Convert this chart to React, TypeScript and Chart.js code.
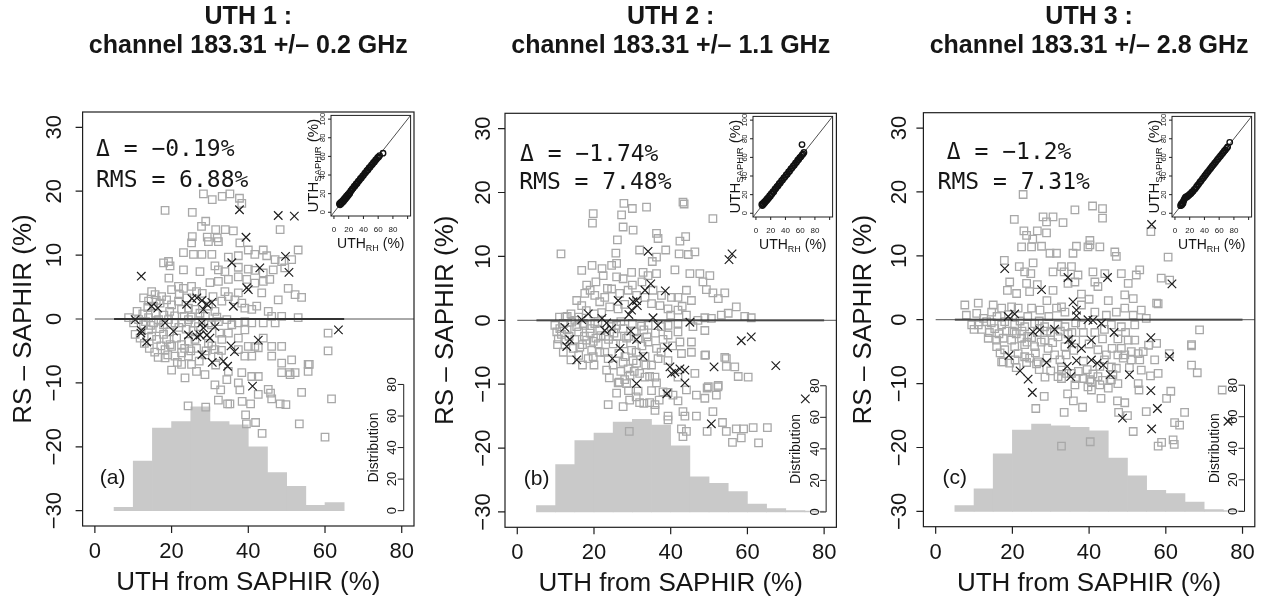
import React, { useEffect, useRef } from 'react';
import Chart from 'chart.js/auto';

type Pt = [number, number];

// ---------------- text ----------------
const TITLES = ['UTH 1 :', 'UTH 2 :', 'UTH 3 :'];
const CHANNELS = ['channel 183.31 +/– 0.2 GHz', 'channel 183.31 +/– 1.1 GHz', 'channel 183.31 +/– 2.8 GHz'];
const LETTERS = ['(a)', '(b)', '(c)'];
const DELTA_TEXT = ['Δ = −0.19%', 'Δ = −1.74%', 'Δ = −1.2%'];
const RMS_TEXT = ['RMS = 6.88%', 'RMS = 7.48%', 'RMS = 7.31%'];
const X_TITLE = 'UTH from SAPHIR (%)';
const Y_TITLE = 'RS – SAPHIR (%)';
const DIST_TITLE = 'Distribution';

// ---------------- ticks ----------------
const X_TICKS = [0, 20, 40, 60, 80];
const Y_TICKS = [-30, -20, -10, 0, 10, 20, 30];
const DIST_TICKS = [0, 20, 40, 60, 80];
const INSET_TICKS = [0, 20, 40, 60, 80, 100];
const INSET_X_LABELS = [0, 20, 40, 60, 80];

// ---------------- histograms (counts per 5% bin) ----------------
const HIST_CENTERS = [7.5, 12.5, 17.5, 22.5, 27.5, 32.5, 37.5, 42.5, 47.5, 52.5, 57.5, 62.5, 67.5, 72.5, 77.5];
const HIST_1 = [2.1, 31.5, 52.3, 56.5, 65.8, 56.5, 54.4, 40.5, 24.2, 15.4, 3.4, 5.1];
const HIST_2 = [4.1, 30.0, 45.2, 50.0, 57.0, 58.7, 55.0, 42.0, 22.3, 18.1, 12.9, 5.0, 2.1, 0.8, 0.5];
const HIST_3 = [3.6, 14.3, 36.4, 51.6, 55.4, 54.3, 53.3, 51.0, 33.7, 22.6, 13.3, 11.2, 5.9, 1.1, 0.5];

// ---------------- zero lines ----------------
const ZERO_THIN_X = [0, 83.2];
const ZERO_THICK_X_1 = [5, 65];
const ZERO_THICK_X_2 = [5, 80];
const ZERO_THICK_X_3 = [5, 80];

// ---------------- panel (a) ----------------
const P1_SQUARES: Pt[] = [
  [18.3, 17.0], [25.4, 16.7], [27.8, 14.5], [28.9, 15.3], [28.3, 19.6], [30.6, 18.7], [33.2, 19.2], [35.2, 19.6],
  [37.7, 18.9], [38.3, 18.1], [31.5, 14.0], [34.0, 14.0], [36.1, 13.8], [25.4, 12.9], [29.3, 12.8], [31.9, 12.7], [48.3, 14.0],
  [25.2, 11.9], [29.6, 12.1], [32.2, 12.1], [37.8, 11.9], [23.1, 10.4], [25.7, 10.1], [27.9, 10.1], [30.5, 10.1],
  [34.8, 9.7], [37.4, 9.9], [40.0, 10.8], [41.7, 10.1], [43.9, 10.8], [44.8, 9.9], [47.0, 9.3], [48.7, 9.0], [51.3, 9.3], [53.0, 10.8],
  [17.9, 8.8], [19.2, 9.0], [19.6, 8.3], [23.1, 7.7], [27.4, 7.4], [31.3, 8.3], [32.2, 7.7], [33.9, 7.4], [37.4, 8.1],
  [40.0, 7.8], [41.7, 7.6], [43.9, 7.2], [46.5, 7.7], [49.5, 8.0],
  [19.3, 6.4], [21.8, 5.1], [14.8, 4.3], [15.7, 3.8], [17.4, 3.5], [20.0, 4.6], [23.1, 4.8], [25.2, 5.1], [26.5, 4.3],
  [30.0, 5.7], [32.2, 5.9], [34.8, 6.2], [37.4, 6.6], [39.6, 6.2], [41.7, 5.6], [43.9, 5.9], [45.6, 6.2], [43.5, 4.1],
  [47.8, 3.0], [50.4, 4.8], [52.2, 3.8], [53.9, 3.4], [33.9, 4.3], [37.4, 4.1],
  [12.7, 3.3], [14.0, 2.8], [15.3, 2.0], [17.0, 2.5], [18.7, 3.0], [20.0, 2.2], [21.8, 2.8], [22.6, 1.5], [24.4, 1.7],
  [26.1, 1.5], [27.4, 0.9], [29.6, 2.0], [31.3, 1.2], [33.1, 2.8], [34.8, 3.5], [36.5, 3.0], [38.3, 2.5], [39.1, 1.7],
  [40.9, 1.5], [42.2, 2.0], [45.2, 1.2], [46.1, 0.4], [48.7, 0.4], [53.0, 0.2],
  [8.8, 0.2], [10.1, -0.6], [11.4, -0.1], [12.7, -0.9], [14.0, 0.2], [15.3, -0.6], [16.6, -0.1], [17.9, -0.9], [19.2, -0.1],
  [20.9, -0.6], [22.6, -0.6], [24.4, -0.1], [26.1, -0.6], [29.6, -0.6], [32.2, -0.4], [34.4, -0.1], [35.7, -0.9],
  [37.4, -0.6], [39.1, -0.4], [40.9, -0.6], [43.9, -0.6], [47.0, -0.6],
  [10.5, -2.4], [11.8, -3.0], [14.0, -1.7], [14.8, -2.7], [16.1, -3.2], [17.9, -2.4], [18.7, -3.2], [19.6, -4.0], [21.3, -3.0],
  [22.6, -4.0], [24.4, -3.5], [26.1, -3.2], [29.6, -3.8], [31.3, -4.8], [33.1, -3.2], [34.8, -2.2], [39.1, -1.7], [40.0, -4.3],
  [41.7, -4.3], [43.9, -3.0], [46.1, -4.3], [48.7, -4.3], [37.4, -3.0], [60.8, -2.2],
  [18.3, -4.8], [20.0, -4.3], [22.6, -5.3], [24.4, -5.8], [18.3, -6.1], [22.6, -7.1], [25.2, -7.1], [28.7, -5.6], [32.2, -5.8],
  [37.4, -4.8], [39.1, -5.8], [40.9, -5.8], [42.6, -4.5], [46.1, -5.8], [48.7, -6.9], [51.3, -6.4], [55.6, -7.1], [60.8, -5.0],
  [23.5, -9.2], [28.7, -8.7], [31.3, -10.3], [34.4, -9.5], [38.3, -8.4], [40.9, -9.0], [42.6, -9.0], [48.7, -8.4], [50.9, -8.7],
  [52.2, -8.4], [55.6, -8.2], [34.8, -8.2], [37.4, -10.0], [45.2, -11.0], [50.7, -8.4], [55.9, -7.1],
  [11.0, 1.2], [12.5, 0.8], [13.2, -0.4], [14.5, -1.0], [15.8, 0.9], [16.9, -1.5], [18.0, 0.6], [19.5, -2.0], [20.8, 0.5],
  [21.9, -1.3], [23.3, 0.4], [23.8, -1.6], [25.1, 0.3], [25.6, -1.8], [27.0, -1.2], [28.8, 0.4], [30.4, -0.9], [31.8, 0.3],
  [12.9, -3.8], [14.2, -4.6], [15.6, -5.2], [17.2, -4.2], [16.5, -6.0], [19.0, -5.6], [20.9, -5.8], [21.5, -6.8], [23.4, -4.6],
  [25.0, -5.0], [26.5, -4.6], [27.2, -6.6], [29.0, -5.0], [30.5, -4.2], [32.5, -2.2], [33.0, -4.9], [13.8, 1.8], [16.0, 2.9],
  [19.5, 1.2], [22.0, 3.8], [24.0, 3.3], [28.0, 4.0], [30.8, 3.5], [31.5, -7.2], [26.5, -8.2], [20.0, -8.0],
  [32.8, -11.1], [32.2, -12.7], [34.6, -13.3], [35.2, -13.3], [38.4, -12.9], [40.6, -13.3], [37.8, -11.1], [42.6, -11.8],
  [45.8, -11.6], [46.1, -12.5], [48.3, -13.3], [49.8, -13.4], [53.9, -11.5], [61.7, -12.5], [24.3, -13.6], [28.9, -13.8],
  [39.3, -15.0], [39.5, -16.4], [41.9, -16.2], [43.6, -17.9], [53.3, -16.4], [60.0, -18.5],
];
const P1_CROSSES: Pt[] = [
  [12.1, 6.7], [14.8, 2.0], [16.4, 1.7], [10.5, -0.1], [12.1, -1.8], [12.0, -2.2], [13.5, -3.6], [18.3, -0.6], [20.5, -1.9],
  [23.9, 2.3], [25.3, 3.2], [26.6, 3.3], [27.9, 2.9], [29.2, 2.3], [30.5, 2.6], [28.3, 1.5], [27.9, -0.6], [28.3, -1.4],
  [27.4, -2.5], [26.6, -2.8], [29.2, -2.5], [30.0, -3.0], [24.4, -2.5], [31.3, -1.2], [36.1, 2.0], [35.7, 8.8], [43.0, 8.0],
  [49.7, 9.8], [50.6, 7.3], [39.6, 4.9], [40.0, 4.6], [35.5, -4.2], [36.4, -5.1], [42.6, -3.3], [27.9, -5.6], [30.6, -6.8],
  [33.5, -6.6], [34.6, -7.4], [41.1, -10.5], [37.7, 17.1], [39.4, 12.8], [47.8, 16.2], [52.0, 16.1], [63.5, -1.7],
];

// ---------------- panel (b) ----------------
const P2_SQUARES: Pt[] = [
  [19.8, 16.7], [19.6, 15.2], [27.8, 18.3], [27.2, 16.5], [27.6, 14.6], [30.0, 17.5], [33.7, 17.7], [30.2, 14.1],
  [36.3, 13.6], [43.2, 18.5], [43.5, 18.2], [51.0, 15.9], [43.9, 13.1], [26.1, 12.6], [36.7, 12.8], [42.4, 12.4],
  [11.4, 10.4], [16.8, 7.8], [19.5, 8.6], [22.1, 8.1], [22.4, 7.0], [24.6, 8.6], [25.9, 6.8], [27.6, 6.5], [29.8, 7.5],
  [32.8, 7.5], [34.1, 7.0], [36.3, 7.3], [41.1, 7.9], [45.0, 7.3], [47.6, 7.3], [50.2, 7.0], [48.4, 6.0], [49.3, 4.8],
  [51.0, 4.3], [54.1, 4.3], [52.4, 3.4], [55.0, 1.1], [57.1, 2.1], [59.3, 0.6], [61.0, 0.4], [25.7, 10.5], [31.9, 11.0],
  [38.7, 11.0], [36.3, 9.9], [35.2, 9.2], [42.2, 10.4], [44.6, 10.3], [46.3, 10.7], [25.9, 8.9],
  [18.1, 5.5], [19.0, 4.7], [17.6, 4.2], [15.5, 3.1], [16.8, 2.3], [20.2, 3.9], [22.8, 3.6], [21.5, 2.9], [24.6, 4.9],
  [26.7, 4.2], [24.1, 2.1], [26.3, 1.8], [28.9, 4.7], [31.1, 3.9], [33.3, 3.6], [35.4, 4.7], [37.6, 3.9], [40.2, 3.6],
  [41.9, 3.6], [44.1, 4.7], [45.4, 3.1], [35.0, 2.6], [37.2, 2.3], [39.3, 1.8], [41.9, 1.6], [44.1, 0.8], [47.1, 0.0],
  [48.9, 0.4], [50.6, 0.3], [53.2, 0.8],
  [9.8, -0.8], [11.1, -1.3], [10.3, -1.8], [14.2, -0.3], [15.5, -1.0], [17.2, -0.5], [19.0, -1.3], [20.2, -0.5], [21.5, -1.6],
  [25.9, -0.8], [27.6, -1.3], [32.4, -0.9], [34.1, -0.8], [37.6, -1.0], [39.3, -0.8], [41.9, -0.5], [45.8, -1.0], [48.9, -1.6],
  [41.9, -1.8], [39.3, -2.3],
  [12.0, -0.5], [13.0, -1.5], [11.5, -2.2], [13.5, -2.5], [16.0, -1.8], [17.5, -2.5], [19.0, -2.0], [21.0, -0.2], [23.0, -2.5],
  [24.5, -1.0], [14.0, 1.0], [16.0, 0.5], [18.0, 1.5], [20.0, 1.0], [22.0, 1.2], [12.5, 0.5], [15.0, -3.0], [17.0, -3.8],
  [20.5, -2.8], [26.0, -2.5], [28.5, -2.8], [30.5, -1.8], [31.5, -2.8], [33.0, -1.5],
  [13.0, 0.6], [15.0, 0.0], [17.5, -0.8], [19.8, -3.3], [21.8, -2.4], [23.8, -3.0], [25.2, -2.0], [27.0, -0.2], [29.0, -2.5],
  [30.0, -0.5], [32.5, -4.0], [33.8, -2.6], [26.5, -5.2], [25.0, -7.0], [21.5, -5.0], [20.0, -7.0], [18.5, -6.0], [16.0, -5.5],
  [31.0, -5.0], [33.5, -7.0], [30.5, -8.0], [27.0, -8.0], [24.0, -9.0], [29.0, -11.0], [31.0, -12.0], [35.0, -11.0],
  [37.0, -12.5], [33.0, -13.0], [11.0, 0.5], [10.5, -3.8], [12.0, -5.0], [14.0, -6.2], [36.0, -2.0], [38.0, -3.0],
  [40.5, -4.0], [37.5, -5.0], [40.0, 0.8], [43.0, 2.2], [20.5, 6.0], [23.5, 5.0], [28.0, 2.5], [30.0, 5.5], [32.5, 6.0],
  [10.7, -2.9], [12.4, -3.1], [14.6, -4.4], [16.3, -4.2], [18.1, -3.1], [19.4, -4.7], [21.1, -3.7], [22.8, -5.0], [25.0, -3.7],
  [27.6, -3.7], [29.8, -4.7], [23.7, -6.0], [28.1, -5.7], [30.2, -6.3], [28.9, -7.6], [29.4, -8.6], [28.5, -9.9], [26.3, -9.8],
  [33.3, -5.7], [35.0, -7.0], [36.7, -6.0], [36.3, -4.4], [34.1, -3.4], [39.3, -6.3], [42.8, -5.2], [45.4, -5.0], [48.9, -5.5],
  [54.5, -6.0], [42.4, -3.4], [45.4, -3.4], [56.7, -7.3], [60.2, -8.9], [52.4, -10.2], [49.8, -10.4], [41.9, -8.9], [35.9, -8.9],
  [33.3, -8.9], [46.3, -8.3], [54.5, -7.2], [57.6, -8.8], [54.1, -5.8], [49.1, -5.4], [17.0, -7.0], [19.8, -5.7], [23.3, -7.8],
  [28.0, -9.3], [31.9, -8.3], [34.5, -8.8], [36.3, -9.8], [26.6, -9.7], [31.1, -6.7], [27.6, -6.6],
  [23.7, -13.2], [27.6, -13.5], [29.2, -17.4], [31.9, -12.9], [34.5, -12.9], [35.9, -14.1], [35.9, -13.2], [39.3, -15.0],
  [39.3, -15.6], [43.2, -14.3], [43.7, -15.0], [42.8, -17.0], [43.2, -18.2], [44.1, -17.4], [46.7, -15.0], [49.5, -17.4],
  [51.0, -14.3], [53.5, -16.0], [54.5, -17.4], [56.1, -19.1], [57.1, -17.0], [58.4, -18.4], [59.0, -17.0], [61.5, -16.8],
  [62.9, -19.2], [65.2, -16.8], [25.9, -11.4], [29.3, -12.5], [31.5, -11.1], [38.0, -11.2], [39.3, -11.3], [40.6, -11.7],
  [41.9, -12.6], [46.7, -11.7], [48.9, -12.2], [51.9, -11.7], [44.1, -10.9], [49.5, -10.6], [52.3, -10.4],
];
const P2_CROSSES: Pt[] = [
  [34.1, 10.8], [55.2, 9.5], [56.0, 10.4], [26.3, 3.1], [30.2, 2.9], [31.1, 3.1], [31.3, 2.3], [29.8, 1.6], [29.1, 0.9],
  [33.3, 4.7], [34.8, 5.7], [38.6, 4.6], [12.4, -1.1], [13.7, -3.0], [12.9, -4.1], [15.5, -6.2], [16.8, 0.1], [18.5, 1.0],
  [22.1, 0.3], [23.3, -0.4], [22.8, -1.6], [24.6, -1.3], [26.8, -4.4], [24.8, -6.0], [29.6, -1.7], [31.1, -3.0], [32.8, -5.6],
  [35.4, 0.4], [36.7, -0.8], [39.2, -4.3], [45.0, -0.3], [58.4, -3.2], [61.0, -2.6], [39.8, -7.3], [41.1, -8.1], [42.4, -7.6],
  [43.7, -7.8], [40.2, -8.3], [43.7, -9.8], [51.3, -7.3], [31.1, -9.9], [39.0, -11.5], [50.6, -16.2], [67.4, -7.1], [75.1, -12.3],
];

// ---------------- panel (c) ----------------
const P3_SQUARES: Pt[] = [
  [22.8, 19.6], [20.5, 15.7], [28.0, 16.1], [28.9, 15.3], [30.6, 16.1], [33.2, 15.2], [36.3, 17.2], [40.9, 17.8], [43.5, 17.4],
  [43.5, 15.9], [23.0, 13.9], [23.7, 13.2], [25.3, 12.6], [26.5, 13.9], [28.9, 13.6], [40.2, 12.4], [56.1, 13.8],
  [22.4, 11.4], [25.0, 11.4], [27.6, 11.5], [29.8, 10.4], [31.5, 10.4], [35.8, 10.4], [36.7, 11.5], [39.7, 11.4], [40.2, 11.7],
  [42.8, 11.4], [46.7, 10.6], [47.1, 9.9], [60.6, 9.8], [17.9, 9.3], [21.8, 8.3], [25.4, 8.9], [23.2, 7.5], [24.8, 7.2],
  [19.3, 5.9], [23.7, 5.7], [18.7, 4.6], [21.1, 4.1], [24.5, 4.4], [30.6, 7.5], [32.8, 8.3], [33.5, 7.5], [35.4, 8.3],
  [30.6, 4.6], [34.5, 5.7], [36.3, 5.9], [37.1, 7.0], [41.0, 7.5], [41.5, 5.9], [42.3, 5.2], [44.1, 7.2], [48.4, 7.2],
  [50.2, 5.7], [52.3, 7.0], [53.2, 7.8], [49.3, 3.9], [51.5, 3.3], [58.0, 2.5], [58.8, 6.5], [61.0, 6.2],
  [7.6, 2.3], [11.1, 2.6], [15.0, 2.3], [8.0, 0.7], [10.7, 1.0], [14.6, 1.2], [17.2, 1.8], [19.8, 2.0], [21.5, 1.8],
  [25.0, 1.8], [27.2, 1.5], [31.5, 1.8], [32.8, 2.0], [33.7, 1.2], [38.0, 2.3], [41.5, 1.2], [44.5, 0.7], [47.1, 1.2],
  [49.3, 1.8], [51.5, 0.7], [53.6, 1.5], [54.9, 0.2],
  [9.4, -0.8], [11.1, -0.8], [13.3, -0.3], [15.4, -1.4], [17.2, -0.8], [20.6, -0.8], [23.2, -1.1], [25.8, -0.6], [28.4, -1.1],
  [31.9, -0.8], [33.7, -1.1], [38.0, -0.8], [45.8, -0.8], [48.4, -1.1], [51.9, -0.8],
  [12.0, -1.5], [14.0, -2.0], [16.5, -2.2], [18.5, -1.8], [21.0, -2.2], [24.0, -2.6], [26.5, -2.0], [27.5, -3.5], [30.0, -2.0],
  [22.0, -0.2], [19.0, 0.8], [24.0, 0.5], [29.5, 0.5], [35.5, -2.0], [36.5, -3.2], [29.0, -6.0], [26.0, -5.2],
  [10.0, -1.5], [12.5, 0.2], [14.5, -0.5], [16.0, 0.5], [18.0, -0.3], [20.0, -1.8], [22.5, -1.8], [23.8, -3.5], [25.0, -2.8],
  [27.0, -0.2], [29.0, -1.8], [30.5, -3.6], [32.5, -1.8], [34.5, -2.2], [36.5, -0.5], [38.5, -2.0], [40.0, -3.8], [41.5, -2.0],
  [43.5, -3.0], [44.0, -1.5], [46.0, -4.5], [47.5, -3.0], [49.5, -2.0], [21.0, -7.5], [24.5, -6.0], [27.0, -7.8], [28.5, -9.0],
  [30.0, -8.0], [31.0, -5.5], [34.0, -5.5], [36.0, -4.8], [38.5, -6.5], [39.5, -7.8], [41.0, -8.5], [43.5, -9.5], [44.0, -6.3],
  [47.5, -5.5], [50.5, -7.5], [55.5, -4.0], [56.0, -8.8], [38.0, 4.0], [40.0, 3.2], [45.0, 3.0], [29.0, 3.0], [26.5, 5.5],
  [13.7, -2.9], [15.9, -3.2], [17.6, -2.9], [19.8, -3.2], [22.4, -2.9], [15.9, -4.2], [18.0, -4.7], [20.6, -4.2], [23.2, -3.9],
  [25.8, -4.2], [28.4, -3.2], [31.9, -2.7], [33.7, -4.2], [29.3, -4.5], [17.2, -6.6], [19.3, -6.8], [23.2, -5.8], [26.7, -6.6],
  [32.4, -6.3], [32.8, -7.9], [32.8, -9.2], [35.4, -8.4], [38.4, -9.2], [40.6, -9.7], [42.3, -8.9], [45.8, -7.4], [47.1, -7.6],
  [44.5, -5.5], [42.3, -4.7], [48.4, -4.5], [50.2, -3.2], [51.9, -3.2], [52.8, -5.3], [54.1, -5.0], [49.3, -5.5], [51.0, -6.3],
  [53.6, -7.9], [57.1, -6.3], [58.0, -8.4], [52.8, -10.0], [47.5, -10.0], [39.7, -10.5], [42.8, -10.2], [46.2, -8.6], [36.3, -10.2],
  [16.8, -5.2], [17.6, -6.6], [20.7, -6.3], [21.5, -5.3], [23.7, -6.7], [26.3, -6.9], [31.9, -8.9], [34.1, -8.4], [36.7, -9.2],
  [40.2, -9.4], [45.8, -9.4], [60.9, -5.3], [53.2, -6.3], [51.0, -5.0], [48.9, -6.0], [42.8, -7.3], [37.2, -8.1], [32.8, -7.4],
  [66.7, -7.1], [68.2, -8.3], [66.7, -4.1], [66.7, -3.9], [68.8, -1.6], [57.6, -3.7], [57.6, 2.6],
  [28.3, -12.0], [26.1, -13.9], [33.5, -14.5], [34.4, -11.6], [35.9, -12.7], [38.3, -13.7], [32.8, -19.8], [40.3, -19.1],
  [40.6, -11.0], [43.1, -12.3], [45.0, -10.7], [47.4, -12.7], [47.7, -14.5], [49.3, -13.0], [50.0, -15.0], [51.5, -17.5],
  [53.0, -11.0], [54.9, -14.4], [60.2, -12.3], [61.3, -11.2], [62.3, -16.1], [63.6, -16.5], [64.9, -14.5], [58.9, -19.2],
  [58.0, -19.8], [61.9, -18.8], [62.2, -19.5], [74.7, -11.0],
];
const P3_CROSSES: Pt[] = [
  [18.0, 8.0], [27.6, 4.7], [34.5, 6.6], [44.8, 6.6], [61.6, 5.6], [56.3, 14.9], [18.9, 0.5], [20.6, 0.9], [25.4, -1.9],
  [27.1, -1.6], [31.0, -1.5], [35.8, 2.8], [36.7, 1.5], [36.7, 0.6], [39.7, 0.0], [41.0, -0.1], [43.2, -0.6], [34.7, -3.1],
  [35.4, -3.8], [38.0, -4.5], [40.6, -3.2], [46.5, -2.0], [56.1, -2.8], [61.0, -5.8], [19.1, -5.6], [22.0, -8.0], [24.1, -9.3],
  [25.2, -11.4], [28.9, -6.7], [34.3, -7.3], [35.2, -8.9], [36.7, -6.4], [40.6, -6.3], [42.1, -6.8], [43.7, -7.1], [45.5, -8.6],
  [50.5, -8.6], [48.7, -15.4], [56.1, -11.1], [57.8, -13.9], [56.3, -17.1], [76.2, -15.9],
];

// ---------------- insets: UTH_RH vs UTH_SAPHIR ----------------
const INSET_DIAG = [-4, 104];
const INSET_1: Pt[] = [
  [7.4, 9.1], [8.3, 8.0], [8.9, 10.4], [9.8, 9.2], [10.6, 11.3], [11.2, 10.5], [12.1, 12.6], [12.9, 11.7], [13.6, 14.1],
  [14.6, 13.5], [15.3, 15.6], [16.1, 14.9], [17.0, 17.2], [17.8, 16.5], [18.8, 19.0], [19.6, 18.3], [20.7, 20.6], [21.5, 20.2],
  [22.6, 22.6], [23.7, 23.4], [24.9, 25.1], [26.0, 25.7], [27.4, 27.8], [28.6, 28.3], [30.1, 30.4], [31.4, 31.0], [32.9, 33.1],
  [34.3, 34.0], [35.8, 36.0], [37.2, 36.8], [38.8, 38.9], [40.1, 39.7], [41.7, 41.8], [43.0, 42.6], [44.6, 44.7], [46.1, 45.5],
  [47.6, 47.7], [49.0, 48.4], [50.6, 50.4], [52.0, 51.3], [53.5, 53.2], [54.9, 54.0], [56.4, 55.9], [57.7, 56.8], [59.2, 58.6],
  [60.6, 59.4], [62.0, 60.9], [66.6, 63.4],
];
const INSET_2: Pt[] = [
  [7.9, 9.4], [8.7, 8.3], [9.5, 10.6], [10.3, 9.7], [11.2, 11.9], [12.0, 11.2], [12.9, 13.4], [13.8, 12.8], [14.7, 15.1],
  [15.6, 14.6], [16.6, 16.9], [17.5, 16.4], [18.6, 18.9], [19.6, 18.4], [20.8, 21.0], [21.8, 20.6], [23.1, 23.3], [24.3, 23.0],
  [25.7, 25.9], [27.0, 26.6], [28.5, 28.7], [29.9, 29.4], [31.5, 31.7], [33.0, 32.6], [34.6, 34.8], [36.1, 35.7], [37.8, 38.0],
  [39.3, 38.9], [41.0, 41.2], [42.5, 42.0], [44.2, 44.4], [45.7, 45.2], [47.4, 47.6], [48.9, 48.5], [50.5, 50.7], [52.0, 51.6],
  [53.6, 53.8], [55.1, 54.7], [56.6, 56.9], [58.0, 57.8], [59.5, 59.8], [60.9, 60.6], [62.4, 62.5], [63.8, 63.6], [65.1, 65.3],
  [62.5, 73.8],
];
const INSET_3: Pt[] = [
  [7.6, 8.2], [8.4, 9.9], [9.3, 9.0], [10.1, 11.3], [10.9, 10.6], [11.6, 13.0], [12.4, 14.4], [13.3, 15.9], [14.2, 17.1],
  [15.3, 17.8], [16.5, 17.6], [17.8, 18.9], [19.1, 19.4], [20.5, 20.8], [21.8, 21.3], [23.2, 22.9], [24.6, 23.6], [26.1, 25.4],
  [27.5, 26.3], [29.1, 28.3], [30.6, 29.9], [32.2, 31.4], [33.8, 33.3], [35.4, 34.7], [37.1, 36.7], [38.7, 38.2], [40.4, 40.1],
  [42.0, 41.6], [43.7, 43.5], [45.3, 45.0], [47.0, 46.9], [48.6, 48.4], [50.3, 50.2], [51.9, 51.7], [53.6, 53.5], [55.2, 55.0],
  [56.9, 56.8], [58.5, 58.3], [60.2, 60.1], [61.8, 61.6], [63.5, 63.3], [65.1, 64.8], [66.8, 66.6], [68.4, 68.0], [70.1, 69.7],
  [71.5, 71.2], [74.3, 76.2],
];

// ---------------- layout (pixels, page coordinates) ----------------
const PAGE_W = 1267;
const PAGE_H = 599;
const GEOM = [
  { cLeft: 0, cWidth: 422, box: [82.6, 112, 414.0, 526], yLabC: 53.5, yTitleC: 22 },
  { cLeft: 422, cWidth: 422, box: [505.0, 113.3, 836.4, 527.3], yLabC: 482, yTitleC: 444 },
  { cLeft: 844, cWidth: 423, box: [923.4, 112.7, 1254.8, 526.7], yLabC: 898, yTitleC: 862 },
];
const INSET_W = 83;
const INSET_H = 104;
const INSET_PAD = { left: 34, top: 2, right: 2, bottom: 38 };
const DELTA_POS: Pt[] = [[0.3, 26.8], [0.7, 26.3], [2.9, 26.5]];
const RMS_POS: Pt[] = [[0.3, 22.0], [0.5, 21.9], [0.5, 21.8]];
const LETTER_POS: Pt[] = [[1.3, -25.8], [1.7, -25.8], [1.8, -25.7]];
const DIST_PER_Y = 4.05; // counts per unit of the left axis

const SANS = '"Liberation Sans", Arial, Helvetica, sans-serif';
const MONO = '"DejaVu Sans Mono", "Liberation Mono", monospace';
const TEXT_COLOR = '#161616';
const AXIS_COLOR = '#1e1e1e';

const SQUARES = [P1_SQUARES, P2_SQUARES, P3_SQUARES];
const CROSSES = [P1_CROSSES, P2_CROSSES, P3_CROSSES];
const HISTS = [HIST_1, HIST_2, HIST_3];
const ZERO_THICK = [ZERO_THICK_X_1, ZERO_THICK_X_2, ZERO_THICK_X_3];
const INSETS = [INSET_1, INSET_2, INSET_3];

const fmt = (v: number) => (v < 0 ? '−' + Math.abs(v) : String(v));

function rotText(ctx: CanvasRenderingContext2D, s: string, x: number, y: number) {
  ctx.save();
  ctx.translate(x, y);
  ctx.rotate(-Math.PI / 2);
  ctx.fillText(s, 0, 0);
  ctx.restore();
}

function drawParts(ctx: CanvasRenderingContext2D, parts: [string, number, number][], cx: number, y: number) {
  let total = 0;
  const widths = parts.map(([t, size]) => {
    ctx.font = `${size}px ${SANS}`;
    const w = ctx.measureText(t).width;
    total += w;
    return w;
  });
  let x = cx - total / 2;
  ctx.textAlign = 'left';
  parts.forEach(([t, size, dy], k) => {
    ctx.font = `${size}px ${SANS}`;
    ctx.fillText(t, x, y + dy);
    x += widths[k];
  });
}

function mainDecor(i: number) {
  return {
    id: 'mainDecor' + i,
    afterDatasetsDraw(chart: any) {
      const g = GEOM[i];
      const ctx = chart.ctx as CanvasRenderingContext2D;
      const { left, right, top, bottom } = chart.chartArea;
      const xs = chart.scales.x;
      const ys = chart.scales.y;
      const ds = chart.scales.yd;
      const off = g.cLeft;
      ctx.save();
      ctx.strokeStyle = AXIS_COLOR;
      ctx.lineWidth = 1.2;
      ctx.strokeRect(left, top, right - left, bottom - top);
      ctx.beginPath();
      for (const v of X_TICKS) {
        const px = xs.getPixelForValue(v);
        ctx.moveTo(px, bottom);
        ctx.lineTo(px, bottom + 7);
      }
      for (const v of Y_TICKS) {
        const py = ys.getPixelForValue(v);
        ctx.moveTo(left, py);
        ctx.lineTo(left - 7, py);
      }
      ctx.stroke();

      ctx.fillStyle = TEXT_COLOR;
      ctx.textAlign = 'center';
      ctx.textBaseline = 'alphabetic';
      ctx.font = `22px ${SANS}`;
      for (const v of X_TICKS) ctx.fillText(fmt(v), xs.getPixelForValue(v), bottom + 32);
      for (const v of Y_TICKS) rotText(ctx, fmt(v), g.yLabC - off + 7.9, ys.getPixelForValue(v));
      ctx.font = `26px ${SANS}`;
      ctx.fillText(X_TITLE, (left + right) / 2, bottom + 64);
      rotText(ctx, Y_TITLE, g.yTitleC - off + 9.3, (top + bottom) / 2);

      ctx.font = `bold 25px ${SANS}`;
      ctx.fillText(TITLES[i], (left + right) / 2, 23.5);
      ctx.fillText(CHANNELS[i], (left + right) / 2, 53);

      // distribution axis
      const lx = xs.getPixelForValue(80) + 2;
      ctx.lineWidth = 1;
      ctx.beginPath();
      ctx.moveTo(lx, ds.getPixelForValue(DIST_TICKS[0]));
      ctx.lineTo(lx, ds.getPixelForValue(DIST_TICKS[DIST_TICKS.length - 1]));
      for (const v of DIST_TICKS) {
        const py = ds.getPixelForValue(v);
        ctx.moveTo(lx - 6, py);
        ctx.lineTo(lx, py);
      }
      ctx.stroke();
      ctx.font = `13px ${SANS}`;
      for (const v of DIST_TICKS) rotText(ctx, String(v), lx - 7.5, ds.getPixelForValue(v));
      ctx.font = `14px ${SANS}`;
      rotText(ctx, DIST_TITLE, lx - 26, ds.getPixelForValue(40));

      // annotations
      ctx.textAlign = 'left';
      ctx.font = `23px ${MONO}`;
      ctx.fillText(DELTA_TEXT[i], xs.getPixelForValue(DELTA_POS[i][0]), ys.getPixelForValue(DELTA_POS[i][1]) + 8.4);
      ctx.fillText(RMS_TEXT[i], xs.getPixelForValue(RMS_POS[i][0]), ys.getPixelForValue(RMS_POS[i][1]) + 8.4);
      ctx.font = `21px ${SANS}`;
      ctx.fillText(LETTERS[i], xs.getPixelForValue(LETTER_POS[i][0]), ys.getPixelForValue(LETTER_POS[i][1]));
      ctx.restore();
    },
  };
}

function insetDecor(i: number) {
  return {
    id: 'insetDecor' + i,
    afterDatasetsDraw(chart: any) {
      const ctx = chart.ctx as CanvasRenderingContext2D;
      const { left, right, top, bottom } = chart.chartArea;
      const xs = chart.scales.x;
      const ys = chart.scales.y;
      ctx.save();
      ctx.strokeStyle = AXIS_COLOR;
      ctx.lineWidth = 1;
      ctx.strokeRect(left, top, right - left, bottom - top);
      ctx.beginPath();
      for (const v of INSET_TICKS) {
        const px = xs.getPixelForValue(v);
        ctx.moveTo(px, bottom);
        ctx.lineTo(px, bottom + 3);
        const py = ys.getPixelForValue(v);
        ctx.moveTo(left, py);
        ctx.lineTo(left - 3, py);
      }
      ctx.stroke();
      ctx.fillStyle = TEXT_COLOR;
      ctx.textAlign = 'center';
      ctx.textBaseline = 'alphabetic';
      ctx.font = `8px ${SANS}`;
      for (const v of INSET_X_LABELS) ctx.fillText(String(v), xs.getPixelForValue(v), bottom + 15.5);
      ctx.font = `7.5px ${SANS}`;
      for (const v of INSET_TICKS) rotText(ctx, String(v), left - 5.8, ys.getPixelForValue(v));
      drawParts(ctx, [['UTH', 14, 0], ['RH', 9, 3], [' (%)', 14, 0]], (left + right) / 2, bottom + 31.5);
      ctx.save();
      ctx.translate(left - 13.5, (top + bottom) / 2);
      ctx.rotate(-Math.PI / 2);
      drawParts(ctx, [['UTH', 15, 0], ['SAPHIR', 9.5, 3], [' (%)', 15, 0]], 0, 0);
      ctx.restore();
      ctx.restore();
    },
  };
}

function mainConfig(i: number): any {
  const g = GEOM[i];
  const [bl, bt, br, bb] = g.box;
  return {
    type: 'scatter',
    data: {
      datasets: [
        {
          type: 'bar',
          data: HISTS[i].map((c, k) => ({ x: HIST_CENTERS[k], y: c })),
          xAxisID: 'x',
          yAxisID: 'yd',
          backgroundColor: '#c9c9c9',
          borderWidth: 0,
          barPercentage: 1,
          categoryPercentage: 1,
          order: 4,
        },
        {
          type: 'scatter',
          data: SQUARES[i].map(([x, y]) => ({ x, y })),
          xAxisID: 'x',
          yAxisID: 'y',
          pointStyle: 'rect',
          pointRadius: 5.3,
          borderColor: '#a8a8a8',
          borderWidth: 1.3,
          backgroundColor: 'rgba(0,0,0,0)',
          order: 3,
        },
        {
          type: 'line',
          data: ZERO_THIN_X.map((x) => ({ x, y: 0 })),
          xAxisID: 'x',
          yAxisID: 'y',
          borderColor: '#555555',
          borderWidth: 1,
          pointRadius: 0,
          order: 2,
        },
        {
          type: 'line',
          data: ZERO_THICK[i].map((x) => ({ x, y: 0 })),
          xAxisID: 'x',
          yAxisID: 'y',
          borderColor: '#111111',
          borderWidth: 1.8,
          pointRadius: 0,
          order: 2,
        },
        {
          type: 'scatter',
          data: CROSSES[i].map(([x, y]) => ({ x, y })),
          xAxisID: 'x',
          yAxisID: 'y',
          pointStyle: 'crossRot',
          pointRadius: 6,
          borderColor: '#1e1e1e',
          borderWidth: 1.2,
          order: 1,
        },
      ],
    },
    options: {
      responsive: false,
      animation: false,
      devicePixelRatio: 1,
      events: [],
      layout: { padding: { left: bl - g.cLeft, top: bt, right: g.cLeft + g.cWidth - br, bottom: PAGE_H - bb } },
      plugins: { legend: { display: false }, tooltip: { enabled: false }, title: { display: false } },
      scales: {
        x: { type: 'linear', min: -3.2, max: 83.2, display: false, offset: false, ticks: { stepSize: 10, includeBounds: false } },
        y: { type: 'linear', min: -32.4, max: 32.4, display: false },
        yd: { type: 'linear', min: (-32.4 + 30) * DIST_PER_Y, max: (32.4 + 30) * DIST_PER_Y, display: false },
      },
    },
    plugins: [mainDecor(i)],
  };
}

function insetConfig(i: number): any {
  return {
    type: 'scatter',
    data: {
      datasets: [
        {
          type: 'line',
          data: INSET_DIAG.map((v) => ({ x: v, y: v })),
          borderColor: '#222222',
          borderWidth: 0.8,
          pointRadius: 0,
          order: 2,
        },
        {
          type: 'scatter',
          data: INSETS[i].map(([x, y]) => ({ x, y })),
          pointStyle: 'circle',
          pointRadius: 2.7,
          borderColor: '#111111',
          borderWidth: 1.4,
          backgroundColor: 'rgba(0,0,0,0)',
          order: 1,
        },
      ],
    },
    options: {
      responsive: false,
      animation: false,
      devicePixelRatio: 1,
      events: [],
      layout: { padding: INSET_PAD },
      plugins: { legend: { display: false }, tooltip: { enabled: false } },
      scales: {
        x: { type: 'linear', min: -4, max: 104, display: false },
        y: { type: 'linear', min: -4, max: 104, display: false },
      },
    },
    plugins: [insetDecor(i)],
  };
}

function ChartCanvas({ config, left, top, width, height }: { config: any; left: number; top: number; width: number; height: number }) {
  const ref = useRef<HTMLCanvasElement>(null);
  useEffect(() => {
    const chart = new Chart(ref.current as HTMLCanvasElement, config);
    return () => chart.destroy();
  }, []);
  return (
    <canvas
      ref={ref}
      width={width}
      height={height}
      style={{ position: 'absolute', left, top, width, height }}
    />
  );
}

export default function App() {
  return (
    <div style={{ position: 'absolute', left: 0, top: 0, width: PAGE_W, height: PAGE_H, background: '#ffffff', overflow: 'hidden' }}>
      {GEOM.map((g, i) => (
        <ChartCanvas key={'m' + i} config={mainConfig(i)} left={g.cLeft} top={0} width={g.cWidth} height={PAGE_H} />
      ))}
      {GEOM.map((g, i) => {
        const [, bt, br] = g.box;
        const il = br - INSET_W;
        return (
          <ChartCanvas
            key={'i' + i}
            config={insetConfig(i)}
            left={il - INSET_PAD.left}
            top={bt - INSET_PAD.top}
            width={INSET_PAD.left + INSET_W + INSET_PAD.right}
            height={INSET_PAD.top + INSET_H + INSET_PAD.bottom}
          />
        );
      })}
    </div>
  );
}
